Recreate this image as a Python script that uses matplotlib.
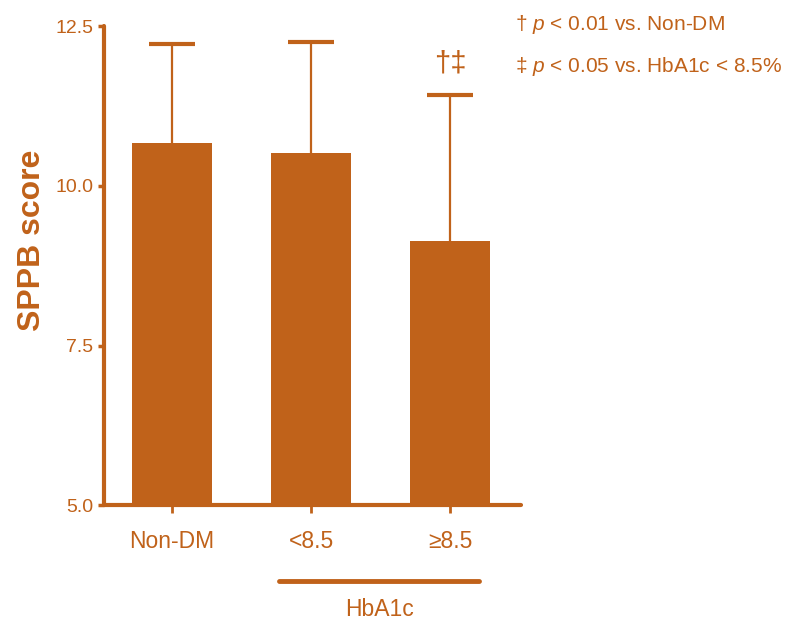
import matplotlib
matplotlib.use("Agg")
import matplotlib.pyplot as plt
from matplotlib import font_manager
import matplotlib.transforms as mtransforms

# ---- data ----
categories = ["Non-DM", "<8.5", "≥8.5"]
means = [10.67, 10.51, 9.13]
sd_upper = [1.55, 1.74, 2.29]
yticks = [5.0, 7.5, 10.0, 12.5]
ytick_labels = ["5.0", "7.5", "10.0", "12.5"]
group_label = "HbA1c"
sig_marks = ["", "", "†‡"]
notes = [r"† $\it{p}$ < 0.01 vs. Non-DM", r"‡ $\it{p}$ < 0.05 vs. HbA1c < 8.5%"]

COLOR = "#C0621A"

names = {f.name for f in font_manager.fontManager.ttflist}
FONT = "Liberation Sans" if "Liberation Sans" in names else "DejaVu Sans"
plt.rcParams["font.family"] = [FONT, "DejaVu Sans"]
plt.rcParams["mathtext.fontset"] = "custom"
plt.rcParams["mathtext.it"] = f"{FONT}:italic"
plt.rcParams["mathtext.rm"] = FONT

fig = plt.figure(figsize=(7.9, 6.29), dpi=100)
ax = fig.add_axes([0.1316, 0.197, 0.528, 0.761])

x = list(range(len(categories)))
ax.bar(x, means, width=0.575, color=COLOR, zorder=3)
eb = ax.errorbar(x, means, yerr=[[0] * len(x), sd_upper], fmt="none", ecolor=COLOR,
                 elinewidth=1.6, capsize=16.5, capthick=3, zorder=2)
# show only the upper caps
eb[1][0].set_visible(False)

ax.set_xlim(-0.49, 2.51)
ax.set_ylim(5.0, 12.5)
ax.set_yticks(yticks)
ax.set_yticklabels(ytick_labels)
ax.set_xticks(x)
ax.set_xticklabels(categories)

for s in ["top", "right"]:
    ax.spines[s].set_visible(False)
for s in ["left", "bottom"]:
    ax.spines[s].set_linewidth(3)
    ax.spines[s].set_color(COLOR)
    ax.spines[s].set_capstyle("round")

ax.tick_params(axis="y", colors=COLOR, length=4.5, width=2.5, pad=3, labelsize=14)
ax.tick_params(axis="x", colors=COLOR, length=6, width=2, pad=12, labelsize=16.5)

for xi, m, e, s in zip(x, means, sd_upper, sig_marks):
    if s:
        ax.text(xi, m + e + 0.5, s, ha="center", va="center", color=COLOR, fontsize=21)

fig.text(32 / 790, 1 - 240 / 629, "SPPB score", rotation=90, ha="center", va="center",
         color=COLOR, fontsize=23, fontweight="bold")

trans = mtransforms.blended_transform_factory(ax.transData, fig.transFigure)
ax.plot([0.77, 2.21], [1 - 581 / 629] * 2, color=COLOR, lw=3.5, transform=trans,
        clip_on=False, solid_capstyle="round")
ax.text(1.49, 1 - 610 / 629, group_label, ha="center", va="center", color=COLOR,
        fontsize=16.5, transform=trans)

fig.text(515 / 790, 1 - 25 / 629, notes[0], ha="left", va="center", color=COLOR, fontsize=15)
fig.text(515 / 790, 1 - 66 / 629, notes[1], ha="left", va="center", color=COLOR, fontsize=15)

fig.savefig("out.png", dpi=100)
